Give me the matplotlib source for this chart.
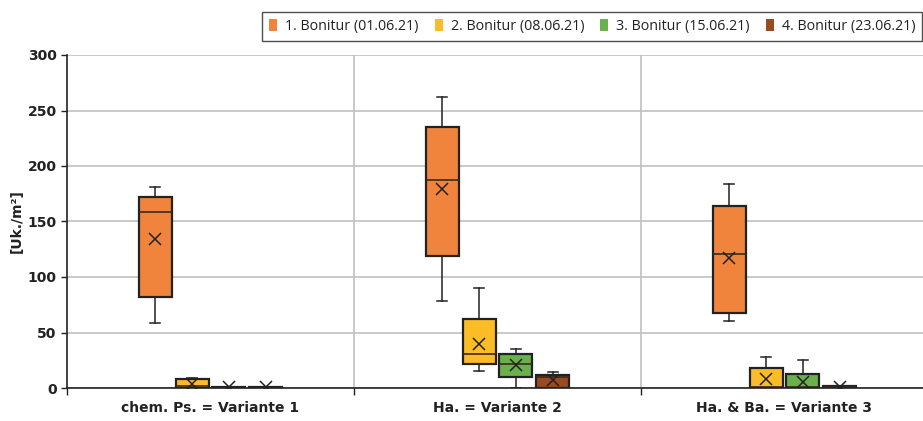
import numpy as np
import matplotlib.pyplot as plt
from matplotlib.patches import Patch

# Daten
varianten = ['chem. Ps. = Variante 1', 'Ha. = Variante 2', 'Ha. & Ba. = Variante 3']
bonituren = ['1. Bonitur (01.06.21)', '2. Bonitur (08.06.21)',
             '3. Bonitur (15.06.21)', '4. Bonitur (23.06.21)']
farben = ['#F0843C', '#FBBC26', '#6AB04C', '#9A4A20']

# Kennwerte je Bonitur (eine Zahl pro Variante)
oben_1 = [181, 262, 184]
q3_1 = [172, 235, 164]
median_1 = [159, 187, 121]
mittel_1 = [134, 179, 117]
q1_1 = [82, 119, 68]
unten_1 = [59, 78, 60]

oben_2 = [9, 90, 28]
q3_2 = [8, 62, 18]
median_2 = [2, 31, 1]
mittel_2 = [4, 40, 8]
q1_2 = [0, 22, 0]
unten_2 = [0, 15, 0]

oben_3 = [0.5, 35, 25]
q3_3 = [0.5, 31, 13]
median_3 = [0, 22, 0.5]
mittel_3 = [0.5, 21, 5]
q1_3 = [0, 10, 0]
unten_3 = [0, 0, 0]

oben_4 = [0.5, 14, 2]
q3_4 = [0.5, 12, 1.5]
median_4 = [0, 10, 0.5]
mittel_4 = [0.5, 7, 1]
q1_4 = [0, 0, 0]
unten_4 = [0, 0, 0]

kennwerte = [
    (oben_1, q3_1, median_1, mittel_1, q1_1, unten_1),
    (oben_2, q3_2, median_2, mittel_2, q1_2, unten_2),
    (oben_3, q3_3, median_3, mittel_3, q1_3, unten_3),
    (oben_4, q3_4, median_4, mittel_4, q1_4, unten_4),
]

plt.rcParams['font.family'] = ['DejaVu Sans']

fig = plt.figure(figsize=(9.23, 4.21), dpi=100)
ax = fig.add_axes([67 / 923, 33 / 421, 861 / 923, 333 / 421])

abstand = 0.128
breite = 0.115
for i, (oben, q3, med, mittel, q1, unten) in enumerate(kennwerte):
    stats = []
    for j in range(len(varianten)):
        stats.append({'whishi': oben[j], 'q3': q3[j], 'med': med[j], 'mean': mittel[j],
                      'q1': q1[j], 'whislo': unten[j], 'fliers': []})
    pos = np.arange(len(varianten)) + (i - 1.5) * abstand
    ax.bxp(stats, positions=pos, widths=breite, patch_artist=True, showmeans=True,
           showfliers=False, capwidths=0.035, manage_ticks=False,
           boxprops=dict(facecolor=farben[i], edgecolor='#222222', linewidth=1.6),
           medianprops=dict(color='#3a2a20', linewidth=1.2),
           whiskerprops=dict(color='#222222', linewidth=1.1),
           capprops=dict(color='#222222', linewidth=1.1),
           meanprops=dict(marker='x', markeredgecolor='#222222', markersize=9,
                          markeredgewidth=1.1))

ax.set_xlim(-0.5, 2.5)
ax.set_ylim(0, 300)
ax.set_yticks(np.arange(0, 301, 50))
ax.set_xticks(range(len(varianten)))
ax.set_xticklabels(varianten, fontsize=10, fontweight='bold', color='#222222')
ax.set_xticks([-0.5, 0.5, 1.5], minor=True)
ax.tick_params(axis='x', which='major', length=0, pad=9)
ax.tick_params(axis='x', which='minor', length=5, width=1, color='#222222')
ax.tick_params(axis='y', length=4, width=1, color='#222222', labelsize=10,
               labelcolor='#222222')
for lbl in ax.get_yticklabels():
    lbl.set_fontweight('bold')

ax.grid(axis='y', color='#c0c0c0', linewidth=1.2)
for x in [0.5, 1.5]:
    ax.axvline(x, color='#c0c0c0', linewidth=1.2, zorder=0)
ax.set_axisbelow(True)

for s in ['top', 'right']:
    ax.spines[s].set_visible(False)
for s in ['left', 'bottom']:
    ax.spines[s].set_color('#222222')
    ax.spines[s].set_linewidth(1.2)

ax.set_ylabel('[Uk./m²]', fontsize=10, fontweight='bold', color='#222222', labelpad=3)

handles = [Patch(facecolor=c, edgecolor='none') for c in farben]
leg = fig.legend(handles, bonituren, loc='upper left', bbox_to_anchor=(262 / 923, 1 - 12 / 421),
                 ncol=4, frameon=True, fancybox=False, edgecolor='#222222',
                 prop={'family': 'Open Sans', 'size': 10.3},
                 handlelength=0.56, handleheight=0.91, handletextpad=0.56, columnspacing=1.12,
                 borderpad=0.5, borderaxespad=0)
leg.get_frame().set_linewidth(1.0)
for t in leg.get_texts():
    t.set_color('#222222')

fig.savefig('out.png', dpi=100)
